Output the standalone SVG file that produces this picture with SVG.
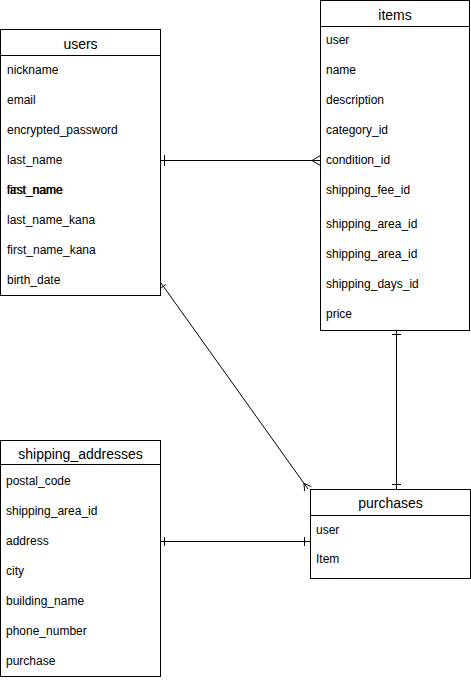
<svg xmlns="http://www.w3.org/2000/svg" width="471" height="680" viewBox="0 0 471 680">
<style>
.box{fill:#fff;stroke:#000;stroke-width:1}
.sep{stroke:#000;stroke-width:1}
.hd{font-family:"Liberation Sans",Arial,sans-serif;font-size:14px;fill:#000;text-anchor:middle}
.row{font-family:"Liberation Sans",Arial,sans-serif;font-size:12px;fill:#000}
.ln{fill:none;stroke:#000;stroke-width:1}
</style>
<rect width="471" height="680" fill="#fff"/>
<g id="users">
<rect class="box" x="0.5" y="29.5" width="160" height="266"/>
<line class="sep" x1="0.5" y1="55.5" x2="160.5" y2="55.5"/>
<text class="hd" x="80.5" y="48.5">users</text>
<text class="row" x="7" y="74">nickname</text>
<text class="row" x="7" y="104">email</text>
<text class="row" x="7" y="134">encrypted_password</text>
<text class="row" x="7" y="164">last_name</text>
<text class="row" x="7" y="194">last_name</text>
<text class="row" x="7" y="194">first_name</text>
<text class="row" x="7" y="224">last_name_kana</text>
<text class="row" x="7" y="254">first_name_kana</text>
<text class="row" x="7" y="284">birth_date</text>
</g>
<g id="items">
<rect class="box" x="320.5" y="0.5" width="149" height="330"/>
<line class="sep" x1="320.5" y1="26.5" x2="469.5" y2="26.5"/>
<text class="hd" x="395" y="19.5">items</text>
<text class="row" x="326" y="44">user</text>
<text class="row" x="326" y="74">name</text>
<text class="row" x="326" y="104">description</text>
<text class="row" x="326" y="134">category_id</text>
<text class="row" x="326" y="164">condition_id</text>
<text class="row" x="326" y="194">shipping_fee_id</text>
<text class="row" x="326" y="228">shipping_area_id</text>
<text class="row" x="326" y="258">shipping_area_id</text>
<text class="row" x="326" y="288">shipping_days_id</text>
<text class="row" x="326" y="318">price</text>
</g>
<g id="shipping_addresses">
<rect class="box" x="0.5" y="440.5" width="160" height="236"/>
<line class="sep" x1="0.5" y1="464.5" x2="160.5" y2="464.5"/>
<text class="hd" x="80.5" y="458.5">shipping_addresses</text>
<text class="row" x="6" y="485">postal_code</text>
<text class="row" x="6" y="515">shipping_area_id</text>
<text class="row" x="6" y="545">address</text>
<text class="row" x="6" y="575">city</text>
<text class="row" x="6" y="605">building_name</text>
<text class="row" x="6" y="635">phone_number</text>
<text class="row" x="6" y="665">purchase</text>
</g>
<g id="purchases">
<rect class="box" x="310.5" y="489.5" width="160" height="89"/>
<line class="sep" x1="310.5" y1="515.5" x2="470.5" y2="515.5"/>
<text class="hd" x="390.5" y="507.5">purchases</text>
<text class="row" x="316" y="533.5">user</text>
<text class="row" x="316" y="563">Item</text>
</g>
<g id="connectors">
<path class="ln" d="M160.5 160.5H320.5M164.5 155V166M320.5 155.5L312 160.5L320.5 165.5"/>
<path class="ln" d="M160.5 541.5H310.5M164.5 537V546M304.5 537V546"/>
<path class="ln" d="M396.5 330.5V489.5M392 334.5H401M392 484.5H401"/>
<path class="ln" d="M161 283L308 489M161 288L165.8 284.6M303.9 483.3L304.7 491.3M303.9 483.3L311.3 486.7"/>
</g>
</svg>
